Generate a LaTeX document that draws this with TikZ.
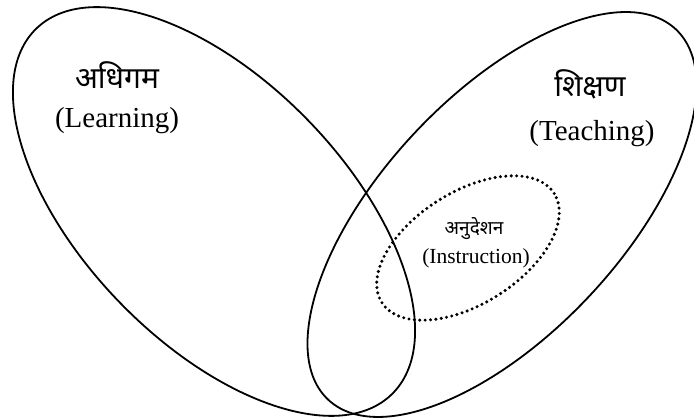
\documentclass[tikz,border=0pt]{standalone}
\usepackage{fontspec}
\setmainfont{Liberation Serif}
\newfontfamily\deva[Script=Devanagari]{Noto Sans}
\tikzset{
  setring/.style={draw=black, line width=1.8pt},
  dotring/.style={draw=black, line width=3.4pt, line cap=round, dash pattern=on 0pt off 5.4pt},
  devlabel/.style={font=\deva\fontsize{30}{34}\selectfont, inner sep=0pt},
  enlabel/.style={font=\fontsize{29}{33}\selectfont, inner sep=0pt},
  smalldev/.style={font=\deva\fontsize{19}{22}\selectfont, inner sep=0pt},
  smallen/.style={font=\fontsize{21.5}{25}\selectfont, inner sep=0pt}
}
\begin{document}
\begin{tikzpicture}[x=1pt,y=1pt]
\fill[white] (0,0) rectangle (694,419);
\useasboundingbox (0,0) rectangle (694,419);
% left ellipse (Learning)
\draw[setring] (214,207.5) circle[x radius=255, y radius=131, rotate=-45.8];
% right ellipse (Teaching)
\draw[setring] (502,204.5) circle[x radius=254, y radius=119.5, rotate=46.8];
% dotted ellipse (Instruction)
\draw[dotring] (468,171) circle[x radius=102, y radius=56, rotate=32.3];
% labels
\node[devlabel] (adhigam) at (117,344) {अधिगम};
\node[enlabel] (learning) at (117,298) {(Learning)};
\node[devlabel] (shikshan) at (590,335) {शिक्षण};
\node[enlabel] (teaching) at (592,285) {(Teaching)};
\node[smalldev] (anudeshan) at (474,190) {अनुदेशन};
\node[smallen] (instruction) at (476,161) {(Instruction)};
\end{tikzpicture}
\end{document}
